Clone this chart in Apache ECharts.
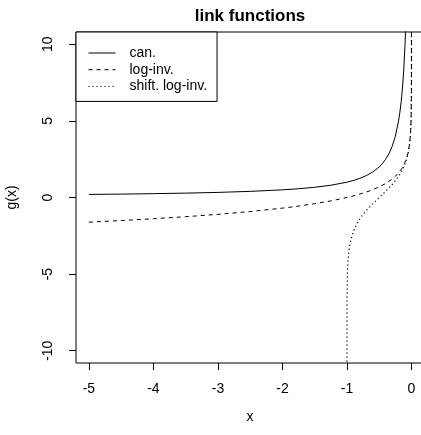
<!DOCTYPE html>
<html>
<head>
<meta charset="utf-8">
<script src="https://cdn.jsdelivr.net/npm/echarts@6/dist/echarts.min.js"></script>
<style>
html,body{margin:0;padding:0;background:#fff;}
#c{width:421px;height:435px;}
</style>
</head>
<body>
<div id="c"></div>
<script>
// --- data ---
var canX = [-5, -4.5, -4, -3.5, -3, -2.5, -2, -1.75, -1.5, -1.25, -1, -0.9, -0.8, -0.7, -0.6, -0.5, -0.45, -0.4, -0.35, -0.3, -0.25, -0.2, -0.18, -0.16, -0.14, -0.12, -0.1, -0.09, -0.08];
var canY = [0.2, 0.222, 0.25, 0.286, 0.333, 0.4, 0.5, 0.571, 0.667, 0.8, 1, 1.111, 1.25, 1.429, 1.667, 2, 2.222, 2.5, 2.857, 3.333, 4, 5, 5.556, 6.25, 7.143, 8.333, 10, 11.11, 12.5];

var logInvX = [-5, -4.5, -4, -3.5, -3, -2.5, -2, -1.75, -1.5, -1.25, -1, -0.9, -0.8, -0.7, -0.6, -0.5, -0.4, -0.3, -0.25, -0.2, -0.15, -0.1, -0.07, -0.05, -0.03, -0.02, -0.01, -0.005, -0.001, -0.0001, -0.00001];
var logInvY = [-1.609, -1.504, -1.386, -1.253, -1.099, -0.916, -0.693, -0.560, -0.405, -0.223, 0, 0.105, 0.223, 0.357, 0.511, 0.693, 0.916, 1.204, 1.386, 1.609, 1.897, 2.303, 2.659, 2.996, 3.507, 3.912, 4.605, 5.298, 6.908, 9.21, 11.5];

var shiftX = [-0.99999, -0.9999, -0.999, -0.995, -0.99, -0.98, -0.97, -0.95, -0.9, -0.85, -0.8, -0.75, -0.7, -0.6, -0.5, -0.4, -0.3, -0.25, -0.2, -0.15, -0.1, -0.07, -0.05, -0.03, -0.02, -0.01, -0.005, -0.001, -0.0001, -0.00001];
var shiftY = [-11.5, -9.21, -6.91, -5.29, -4.595, -3.892, -3.476, -2.944, -2.197, -1.735, -1.386, -1.099, -0.847, -0.405, 0, 0.405, 0.847, 1.099, 1.386, 1.735, 2.197, 2.59, 2.944, 3.476, 3.892, 4.595, 5.293, 6.907, 9.21, 11.5];

var xTicks = [-5, -4, -3, -2, -1, 0];
var yTicks = [-10, -5, 0, 5, 10];
var seriesNames = ['can.', 'log-inv.', 'shift. log-inv.'];
var titleText = 'link functions';
var xTitle = 'x';
var yTitle = 'g(x)';

function pairs(xs, ys) {
  var out = [];
  for (var i = 0; i < xs.length; i++) out.push([xs[i], ys[i]]);
  return out;
}

var FONT = 'Liberation Sans, Arial, Helvetica, sans-serif';
var chart = echarts.init(document.getElementById('c'), null, {renderer: 'canvas'});

var lineBase = {type: 'line', symbol: 'none', showSymbol: false, clip: true, smooth: false, animation: false, z: 3};

chart.setOption({
  animation: false,
  backgroundColor: '#fff',
  grid: {left: 76, top: 32, width: 348.4, height: 331, show: true, borderColor: '#000', borderWidth: 1,
    backgroundColor: 'transparent', containLabel: false, outerBoundsMode: 'none'},
  xAxis: {
    type: 'value', min: -5.2, max: 0.2,
    axisLine: {show: false, onZero: false},
    splitLine: {show: false},
    axisTick: {show: true, length: 7, lineStyle: {color: '#000', width: 1}, customValues: xTicks},
    axisLabel: {show: true, margin: 19, color: '#000', fontSize: 14, fontFamily: FONT, customValues: xTicks,
      formatter: function (v) { return String(v); }}
  },
  yAxis: {
    type: 'value', min: -10.8, max: 10.8,
    axisLine: {show: false, onZero: false},
    splitLine: {show: false},
    axisTick: {show: true, length: 7, lineStyle: {color: '#000', width: 1}, customValues: yTicks},
    axisLabel: {show: true, margin: 21, rotate: 90, color: '#000', fontSize: 14, fontFamily: FONT, customValues: yTicks,
      formatter: function (v) { return String(v); }}
  },
  legend: {
    show: true,
    left: 76, top: 32,
    orient: 'vertical',
    padding: [14, 10, 8, 12],
    itemGap: 2.7,
    itemWidth: 27, itemHeight: 14,
    borderColor: '#000', borderWidth: 1, borderRadius: 0,
    backgroundColor: '#fff',
    selectedMode: false,
    itemStyle: {color: 'transparent', borderColor: 'transparent', borderWidth: 0, opacity: 0},
    lineStyle: {width: 1, color: '#000'},
    textStyle: {color: '#000', fontSize: 14, fontFamily: FONT, padding: [0, 0, 0, 9]},
    data: seriesNames
  },
  graphic: [
    {type: 'text', x: 250, y: 16, z: 10,
      style: {text: titleText, font: 'bold 17px ' + FONT, fill: '#000', textAlign: 'center', textVerticalAlign: 'middle'}},
    {type: 'text', x: 250, y: 417, z: 10,
      style: {text: xTitle, font: '14px ' + FONT, fill: '#000', textAlign: 'center', textVerticalAlign: 'middle'}},
    {type: 'text', x: 12.5, y: 197.5, rotation: Math.PI / 2, z: 10,
      style: {text: yTitle, font: '14px ' + FONT, fill: '#000', textAlign: 'center', textVerticalAlign: 'middle'}}
  ],
  series: [
    Object.assign({}, lineBase, {name: seriesNames[0], data: pairs(canX, canY),
      itemStyle: {color: '#000'}, lineStyle: {color: '#000', width: 1, type: 'solid'}}),
    Object.assign({}, lineBase, {name: seriesNames[1], data: pairs(logInvX, logInvY),
      itemStyle: {color: '#000'}, lineStyle: {color: '#000', width: 1, type: [4, 4]}}),
    Object.assign({}, lineBase, {name: seriesNames[2], data: pairs(shiftX, shiftY),
      itemStyle: {color: '#000'}, lineStyle: {color: '#000', width: 1.2, type: [1.2, 2.8]}})
  ]
});
</script>
</body>
</html>
